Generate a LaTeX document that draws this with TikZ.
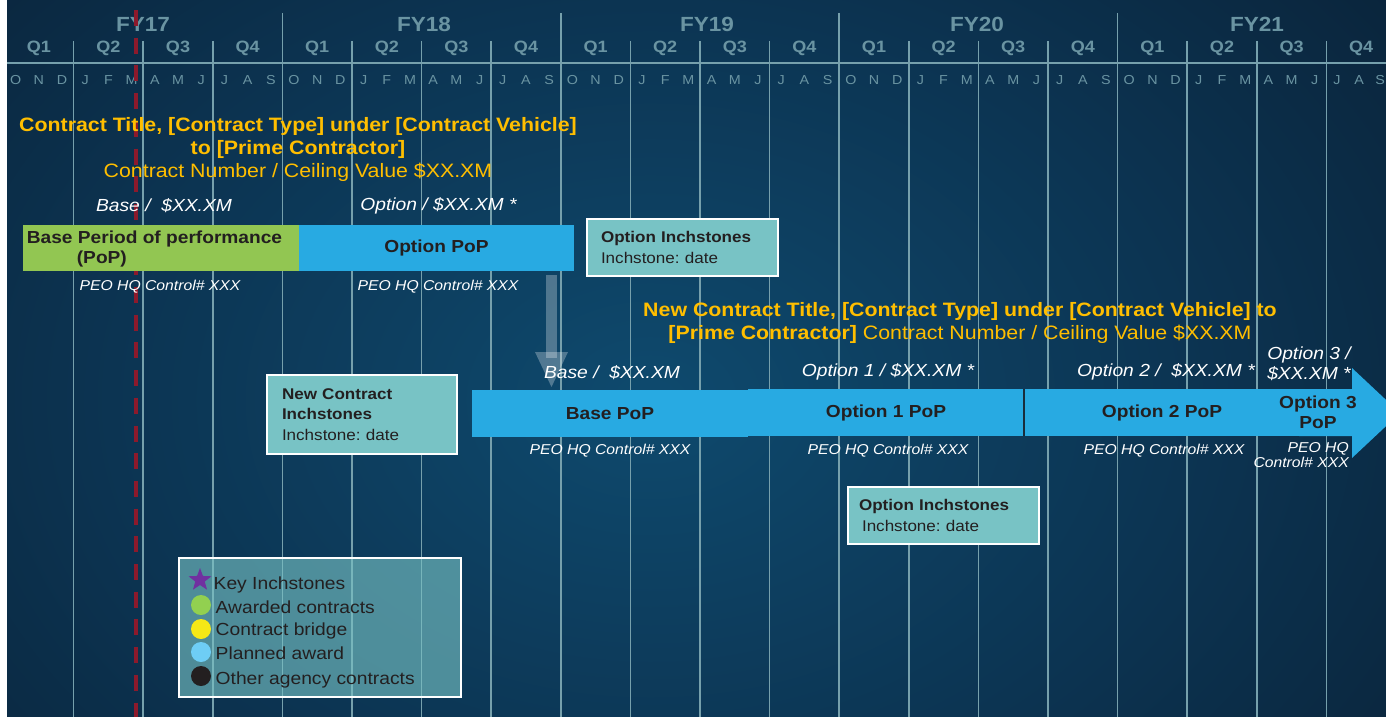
\documentclass[tikz,border=0pt]{standalone}
\usepackage{fontspec}
\setmainfont{Liberation Sans}[FakeStretch=1.1]
\usetikzlibrary{shapes.geometric}
\definecolor{bgdark}{RGB}{9,26,44}
\definecolor{bgmid}{RGB}{14,74,110}
\definecolor{bgmid2}{RGB}{12,52,82}
\definecolor{gridc}{RGB}{118,160,172}
\definecolor{hdrc}{RGB}{106,148,162}
\definecolor{gold}{RGB}{255,190,0}
\definecolor{greenbar}{RGB}{146,198,82}
\definecolor{bluebar}{RGB}{40,170,226}
\definecolor{inchfill}{RGB}{120,195,197}
\definecolor{darktext}{RGB}{35,31,32}
\definecolor{redline}{RGB}{140,26,44}
\definecolor{starc}{RGB}{112,48,160}
\definecolor{lgreen}{RGB}{146,208,80}
\definecolor{lyellow}{RGB}{245,232,22}
\definecolor{lblue}{RGB}{110,205,245}
\definecolor{lblack}{RGB}{35,31,32}
\definecolor{sepc}{RGB}{25,45,60}
\pgfdeclareradialshading{bgshade}{\pgfpointorigin}{color(0bp)=(bgmid); color(18bp)=(bgmid2); color(40bp)=(bgdark); color(70bp)=(bgdark)}
\frenchspacing
\begin{document}
\frenchspacing
\begin{tikzpicture}[x=1pt,y=-1pt,
  hdr/.style={text=hdrc, font=\bfseries\fontsize{20.5}{22}\selectfont, inner sep=0},
  qlab/.style={text=hdrc, font=\bfseries\fontsize{16.4}{18}\selectfont, inner sep=0},
  mlab/.style={text=hdrc, font=\fontsize{13}{14}\selectfont, inner sep=0},
  gridline/.style={draw=gridc, line width=1.6pt},
  titletext/.style={text=gold, font=\bfseries\fontsize{19.4}{23}\selectfont, align=center, inner sep=0},
  ital/.style={text=white, font=\itshape\fontsize{17.5}{20}\selectfont, inner sep=0},
  peo/.style={text=white, font=\itshape\fontsize{14.3}{15.5}\selectfont, inner sep=0},
  barbox/.style={inner sep=0, text=darktext, font=\bfseries\fontsize{17.4}{20}\selectfont, align=center},
  inchbox/.style={draw=white, line width=2.2pt, fill=inchfill, inner ysep=0, align=left, text=darktext, font=\fontsize{15.5}{20.5}\selectfont},
  arrowgray/.style={fill=white, fill opacity=0.28},
  legtext/.style={anchor=base west, inner sep=0, text=darktext, font=\fontsize{17.5}{20}\selectfont},
  legdot/.style={circle, minimum size=20pt, inner sep=0}
]
\useasboundingbox (0,0) rectangle (1386,717);
\fill[white] (0,0) rectangle (1386,717);
\begin{scope}
  \clip (7,0) rectangle (1386,717);
  \shade[shading=bgshade] (-100,-150) rectangle (1400,950);
\end{scope}

% grid
\foreach \i in {1,...,19}{
  \pgfmathsetmacro\xx{4+69.6*\i}
  \pgfmathtruncatemacro\r{mod(\i,4)}
  \ifnum\r=0 \draw[gridline] (\xx,13) -- (\xx,717); \else \draw[gridline] (\xx,41) -- (\xx,717); \fi
}
\draw[gridline] (7,63) -- (1386,63);

% header labels
\foreach \xx/\lab in {143/17, 424/18, 707/19, 977/20, 1257/21}
  \node[hdr] (fy\lab) at (\xx,24) {FY\lab};
\foreach \i in {0,...,19}{
  \pgfmathsetmacro\xx{4+69.6*\i+34.8}
  \pgfmathtruncatemacro\q{mod(\i,4)+1}
  \node[qlab] (q\i) at (\xx,48) {Q\q};
}
\foreach \m [count=\j from 0] in {O,N,D,J,F,M,A,M,J,J,A,S,O,N,D,J,F,M,A,M,J,J,A,S,O,N,D,J,F,M,A,M,J,J,A,S,O,N,D,J,F,M,A,M,J,J,A,S,O,N,D,J,F,M,A,M,J}{
  \pgfmathsetmacro\xx{4+23.2*\j+11.6}
  \node[mlab] (mo\j) at (\xx,80) {\m};
}
\node[mlab] (mo57) at (1337,80) {J};
\node[mlab] (mo58) at (1359,80) {A};
\node[mlab, anchor=east] (mo59) at (1385,80) {S};

% today line
\draw[redline, line width=4pt, dash pattern=on 16pt off 11.7pt] (136,10) -- (136,717);

% first contract
\node[titletext] (t1) at (298,149) {Contract Title, [Contract Type] under [Contract Vehicle]\\to [Prime Contractor]\\{\mdseries Contract Number / Ceiling Value \$XX.XM}};
\node[ital] (lb1) at (164,206) {Base / \ \$XX.XM};
\node[ital] (lb2) at (438.5,206) {Option / \$XX.XM *};
\node[barbox, fill=greenbar, minimum width=276pt, minimum height=46pt] (basepop) at (161,248) {};
\node[barbox, align=left] (basepopt) at (154.5,249) {Base Period of performance\\\hspace*{50pt}(PoP)};
\node[barbox, fill=bluebar, minimum width=275pt, minimum height=46pt] (optpop) at (436.5,248) {Option PoP};
\node[peo] (peo1) at (160,287) {PEO HQ Control\# XXX};
\node[peo] (peo2) at (438,287) {PEO HQ Control\# XXX};
\node[inchbox, text width=163pt, inner xsep=14pt, minimum height=57pt] (ib1) at (682.5,247.5) {\textbf{Option Inchstones}\\Inchstone: date};

% transition arrow
\coordinate (gaS) at (551.5,275);
\coordinate (gaE) at (551.5,387);
\fill[arrowgray] ([xshift=-5.75pt]gaS) rectangle ([xshift=5.75pt,yshift=29pt]gaE);
\fill[arrowgray] ([xshift=-16.5pt,yshift=35pt]gaE) -- ([xshift=16.5pt,yshift=35pt]gaE) -- (gaE) -- cycle;

% new contract
\node[titletext] (t2) at (960,322.5) {New Contract Title, [Contract Type] under [Contract Vehicle] to\\{}[Prime Contractor] {\mdseries Contract Number / Ceiling Value \$XX.XM}};
\node[ital] (lb3) at (612,373) {Base / \ \$XX.XM};
\node[ital] (lb4) at (888,372) {Option 1 / \$XX.XM *};
\node[ital] (lb5) at (1166,372) {Option 2 / \ \$XX.XM *};
\node[ital, align=center] (lb6) at (1309,364) {Option 3 /\\\$XX.XM *};

\fill[bluebar] (1299,389) -- (1352,389) -- (1352,368) -- (1400,413) -- (1352,458) -- (1352,436) -- (1299,436) -- cycle;
\node[barbox, fill=bluebar, minimum width=276pt, minimum height=47pt] (bpop) at (610,413.5) {Base PoP};
\node[barbox, fill=bluebar, minimum width=276pt, minimum height=47pt] (o1pop) at (886,412.5) {Option 1 PoP};
\node[barbox, fill=bluebar, minimum width=276pt, minimum height=47pt] (o2pop) at (1162,412.5) {Option 2 PoP};
\node[barbox] (o3pop) at (1318,412.5) {Option 3\\PoP};
\draw[sepc, line width=1.8pt] (o1pop.north east) -- (o1pop.south east);

\node[peo] (peo3) at (610,451) {PEO HQ Control\# XXX};
\node[peo] (peo4) at (888,451) {PEO HQ Control\# XXX};
\node[peo] (peo5) at (1164,451) {PEO HQ Control\# XXX};
\node[peo, align=right, anchor=east] (peo6) at (1349,455) {PEO HQ\\Control\# XXX};

\node[inchbox, text width=160pt, inner xsep=15pt, minimum height=79pt] (ib3) at (362,414.5) {\textbf{New Contract}\\\textbf{Inchstones}\\Inchstone: date};
\node[inchbox, text width=169pt, inner xsep=11pt, minimum height=57pt] (ib2) at (943.5,515.5) {\textbf{Option Inchstones}\\\hspace*{3pt}Inchstone: date};

% legend
\node[draw=white, line width=2pt, fill=inchfill, fill opacity=0.62, minimum width=282pt, minimum height=139pt, inner sep=0] (legend) at (320,627.5) {};
\node[star, star points=5, star point ratio=2.4, fill=starc, minimum size=24pt, inner sep=0] (lstar) at (200,580) {};
\node[legdot, fill=lgreen] (ldot1) at (201,605) {};
\node[legdot, fill=lyellow] (ldot2) at (201,629) {};
\node[legdot, fill=lblue] (ldot3) at (201,652) {};
\node[legdot, fill=lblack] (ldot4) at (201,676) {};
\node[legtext] (lt0) at (213.5,589) {Key Inchstones};
\node[legtext] (lt1) at (215.5,613) {Awarded contracts};
\node[legtext] (lt2) at (215.5,635) {Contract bridge};
\node[legtext] (lt3) at (215.5,659) {Planned award};
\node[legtext] (lt4) at (215.5,684) {Other agency contracts};
\end{tikzpicture}
\end{document}
